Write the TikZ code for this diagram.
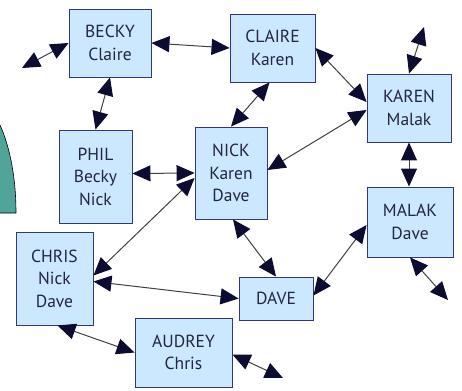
\documentclass[tikz,border=0pt]{standalone}
\usepackage{fontspec}
\setmainfont{PT Sans}
\usetikzlibrary{arrows.meta}
\definecolor{boxblue}{RGB}{204,232,255}
\definecolor{boxline}{RGB}{50,55,125}
\definecolor{textdark}{RGB}{35,37,65}
\definecolor{tipnavy}{RGB}{12,12,50}
\definecolor{teal}{RGB}{80,164,154}
\tikzstyle{box} = [rectangle, draw=boxline, line width=0.9pt, fill=boxblue, text=textdark, align=center, font=\fontsize{17.5}{22.5}\selectfont, inner sep=0pt]
\tikzstyle{arrow} = [draw=black!75, line width=1pt, {Triangle[length=18pt,width=16pt,color=tipnavy]}-{Triangle[length=18pt,width=16pt,color=tipnavy]}]

\begin{document}
\begin{tikzpicture}[x=1pt, y=-1pt]
    \useasboundingbox (0,0) rectangle (462,390);

        % Teal shape at the left edge
        \draw [fill=teal, line width=0.6pt] (0,125) .. controls (9,145) and (16,175) .. (16,213) -- (0,213);

        % Nodes
        \node (becky) [box, minimum width=82pt, minimum height=68pt] at (110,43) {BECKY\\Claire};
        \node (claire) [box, minimum width=85pt, minimum height=68pt] at (272.5,48) {CLAIRE\\Karen};
        \node (karen) [box, minimum width=84pt, minimum height=68pt] at (409,108) {KAREN\\Malak};
        \node (phil) [box, minimum width=73pt, minimum height=93pt] at (95.5,176.5) {PHIL\\Becky\\Nick};
        \node (nick) [box, minimum width=72pt, minimum height=92pt] at (231,173) {NICK\\Karen\\Dave};
        \node (malak) [box, minimum width=86pt, minimum height=70pt] at (410,222) {MALAK\\Dave};
        \node (chris) [box, minimum width=77pt, minimum height=93pt] at (54.5,278.5) {CHRIS\\Nick\\Dave};
        \node (dave) [box, minimum width=74pt, minimum height=43pt] at (276,298.5) {DAVE};
        \node (audrey) [box, minimum width=97pt, minimum height=69pt] at (183.5,352.5) {AUDREY\\Chris};

        % Free ends
        \coordinate (beckyOut) at (22,68);
        \coordinate (karenOut) at (424,27);
        \coordinate (malakOut) at (448,300);
        \coordinate (audreyOut) at (283,378);

        % Arrows
        \draw [arrow] (becky.west) -- (beckyOut);
        \draw [arrow] (becky.east) -- (claire.west);
        \draw [arrow] (becky.south) -- (phil.north);
        \draw [arrow] ([xshift=-3pt]claire.south) -- (nick.north);
        \draw [arrow] (claire.east) -- ([yshift=6pt]karen.west);
        \draw [arrow] ([yshift=-2pt]karen.west) -- ([yshift=3pt]nick.east);
        \draw [arrow] (karen.north) -- (karenOut);
        \draw [arrow] (karen.south) -- ([xshift=-1pt]malak.north);
        \draw [arrow] ([yshift=3pt]phil.east) -- (nick.west);
        \draw [arrow] ([yshift=-5pt]nick.west) -- ([yshift=3pt]chris.east);
        \draw [arrow] ([yshift=-3pt]chris.east) -- (dave.west);
        \draw [arrow] ([xshift=2pt]nick.south) -- (dave.north);
        \draw [arrow] ([yshift=3pt]dave.east) -- ([yshift=-3pt]malak.west);
        \draw [arrow] (malak.south) -- (malakOut);
        \draw [arrow] ([xshift=3pt]chris.south) -- (audrey.west);
        \draw [arrow] ([yshift=-2pt]audrey.east) -- (audreyOut);

        \end{tikzpicture}
\end{document}
